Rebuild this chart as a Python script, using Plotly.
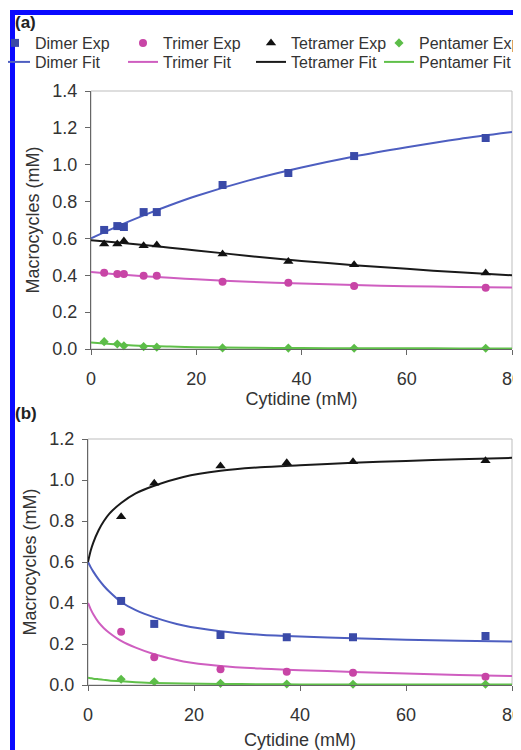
import plotly.graph_objects as go

# ---------------- data ----------------
# Panel (a): experimental points
a_x = [2.5, 5, 6.25, 10, 12.5, 25, 37.5, 50, 75]
a_dimer = [0.646, 0.667, 0.662, 0.743, 0.743, 0.89, 0.955, 1.047, 1.145]
a_trimer = [0.414, 0.407, 0.407, 0.398, 0.398, 0.365, 0.36, 0.342, 0.333]
a_tetramer = [0.57, 0.57, 0.586, 0.56, 0.565, 0.515, 0.475, 0.457, 0.413]
a_pentamer = [0.04, 0.027, 0.018, 0.013, 0.01, 0.006, 0.005, 0.004, 0.004]

# Panel (a): fit curves
a_fit_x = [0, 5, 10, 15, 20, 30, 40, 50, 60, 70, 80]
a_fit_dimer = [0.60, 0.665, 0.725, 0.78, 0.83, 0.915, 0.985, 1.045, 1.095, 1.14, 1.177]
a_fit_trimer = [0.418, 0.405, 0.395, 0.386, 0.378, 0.365, 0.355, 0.347, 0.341, 0.337, 0.334]
a_fit_tetramer = [0.59, 0.578, 0.565, 0.55, 0.535, 0.505, 0.478, 0.455, 0.435, 0.416, 0.40]
a_fit_pentamer = [0.035, 0.025, 0.017, 0.013, 0.010, 0.007, 0.005, 0.004, 0.004, 0.003, 0.003]

# Panel (b): experimental points
b_x = [6.25, 12.5, 25, 37.5, 50, 75]
b_dimer = [0.41, 0.298, 0.244, 0.233, 0.233, 0.239]
b_trimer = [0.26, 0.135, 0.077, 0.065, 0.06, 0.04]
b_tetramer = [0.821, 0.984, 1.068, 1.084, 1.089, 1.094]
b_pentamer = [0.028, 0.016, 0.008, 0.005, 0.004, 0.004]

# Panel (b): fit curves
b_fit_x = [0, 0.5, 1, 2, 3, 4, 6.25, 9, 12.5, 18, 25, 32.5, 40, 50, 60, 70, 80]
b_fit_dimer = [0.60, 0.575, 0.553, 0.515, 0.483, 0.456, 0.405, 0.365, 0.33, 0.29, 0.262,
               0.245, 0.236, 0.228, 0.221, 0.216, 0.212]
b_fit_trimer = [0.40, 0.37, 0.345, 0.305, 0.277, 0.255, 0.215, 0.182, 0.150, 0.115, 0.093,
                0.08, 0.072, 0.064, 0.056, 0.049, 0.044]
b_fit_tetramer = [0.60, 0.655, 0.695, 0.755, 0.80, 0.835, 0.888, 0.935, 0.972, 1.015, 1.045,
                  1.062, 1.072, 1.084, 1.093, 1.101, 1.108]
b_fit_pentamer = [0.035, 0.033, 0.031, 0.028, 0.025, 0.022, 0.018, 0.014, 0.010, 0.007, 0.005,
                  0.004, 0.003, 0.003, 0.002, 0.002, 0.002]

x_ticks = [0, 20, 40, 60, 80]
a_y_ticks = [0.0, 0.2, 0.4, 0.6, 0.8, 1.0, 1.2, 1.4]
b_y_ticks = [0.0, 0.2, 0.4, 0.6, 0.8, 1.0, 1.2]

series_names = ["Dimer", "Trimer", "Tetramer", "Pentamer"]

# ---------------- styles ----------------
marker_colors = ["#3a4aa8", "#c845a6", "#111111", "#5cbd48"]
line_colors = ["#4d5ec0", "#cf5ec0", "#1a1a1a", "#60c04a"]
symbols = ["square", "circle", "triangle-up", "diamond"]
sizes = [8, 8, 9, 7]

FONT = "Liberation Sans, Arial, sans-serif"
TXT = "#333333"
AX = "#666666"

fig = go.Figure()

a_exp = [a_dimer, a_trimer, a_tetramer, a_pentamer]
a_fit = [a_fit_dimer, a_fit_trimer, a_fit_tetramer, a_fit_pentamer]
b_exp = [b_dimer, b_trimer, b_tetramer, b_pentamer]
b_fit = [b_fit_dimer, b_fit_trimer, b_fit_tetramer, b_fit_pentamer]

for i, name in enumerate(series_names):
    fig.add_trace(go.Scatter(
        x=a_fit_x, y=a_fit[i], mode="lines", name=name + " Fit",
        line=dict(color=line_colors[i], width=2, shape="spline", smoothing=0.8),
        legend="legend2", xaxis="x", yaxis="y", legendrank=10 + i, cliponaxis=False))
for i, name in enumerate(series_names):
    fig.add_trace(go.Scatter(
        x=a_x, y=a_exp[i], mode="markers", name=name + " Exp",
        marker=dict(symbol=symbols[i], size=sizes[i], color=marker_colors[i]),
        legend="legend", xaxis="x", yaxis="y", legendrank=i, cliponaxis=False))
for i, name in enumerate(series_names):
    fig.add_trace(go.Scatter(
        x=b_fit_x, y=b_fit[i], mode="lines", name=name + " Fit", showlegend=False,
        line=dict(color=line_colors[i], width=2, shape="spline", smoothing=0.8),
        xaxis="x2", yaxis="y2", cliponaxis=False))
for i, name in enumerate(series_names):
    fig.add_trace(go.Scatter(
        x=b_x, y=b_exp[i], mode="markers", name=name + " Exp", showlegend=False,
        marker=dict(symbol=symbols[i], size=sizes[i], color=marker_colors[i]),
        xaxis="x2", yaxis="y2", cliponaxis=False))

# The page body has an 8px default margin: the figure sits at (8, 8) in the window.
OFF = 8
W, H = 521 - OFF, 750 - OFF

def px_x(p):
    return (p - OFF) / W

def px_y(p):
    return 1 - (p - OFF) / H

def xaxis_style(title_standoff, label_standoff):
    return dict(range=[0, 80], tickvals=x_ticks, ticks="outside", ticklen=5, tickcolor=AX,
                showline=True, linecolor=AX, linewidth=1, showgrid=False, zeroline=False,
                tickfont=dict(family=FONT, size=18, color=TXT), ticklabelstandoff=label_standoff,
                ticklabeloverflow="allow",
                title=dict(text="Cytidine (mM)", font=dict(family=FONT, size=18, color=TXT),
                           standoff=title_standoff))

ycommon = dict(ticks="outside", ticklen=5, tickcolor=AX, tickformat=".1f",
               showline=True, linecolor=AX, linewidth=1, showgrid=False, zeroline=False,
               tickfont=dict(family=FONT, size=18, color=TXT), ticklabelstandoff=4,
               ticklabeloverflow="allow",
               title=dict(text="Macrocycles (mM)", font=dict(family=FONT, size=18, color=TXT), standoff=8))

legend_common = dict(orientation="h", x=0, xanchor="left", yanchor="middle",
                     entrywidth=96, entrywidthmode="pixels", indentation=-13, itemwidth=30,
                     font=dict(family=FONT, size=16, color=TXT), bgcolor="rgba(0,0,0,0)",
                     traceorder="normal")

fig.update_layout(
    width=W, height=H, margin=dict(l=0, r=0, t=0, b=0, autoexpand=False),
    paper_bgcolor="white", plot_bgcolor="white",
    font=dict(family=FONT, color=TXT),
    xaxis=dict(domain=[px_x(91), px_x(512)], anchor="y", **xaxis_style(0, 8)),
    yaxis=dict(domain=[px_y(349), px_y(91)], anchor="x", range=[0, 1.4], tickvals=a_y_ticks, **ycommon),
    xaxis2=dict(domain=[px_x(88), px_x(512)], anchor="y2", **xaxis_style(9, 8)),
    yaxis2=dict(domain=[px_y(685), px_y(439)], anchor="x2", range=[0, 1.2], tickvals=b_y_ticks, **ycommon),
    legend=dict(y=px_y(43), **legend_common),
    legend2=dict(y=px_y(62), **legend_common),
    showlegend=True,
)

# plot-area light frame
for xr, yr in [("x", "y"), ("x2", "y2")]:
    fig.add_shape(type="rect", xref=xr + " domain", yref=yr + " domain", x0=0, x1=1, y0=0, y1=1,
                  line=dict(color="#bdbdbd", width=1), layer="below")

# panel labels
fig.add_annotation(text="<b>(a)</b>", x=px_x(13), xanchor="left", y=px_y(23), yanchor="middle",
                   xref="paper", yref="paper", showarrow=False, font=dict(family=FONT, size=17, color="#222"))
fig.add_annotation(text="<b>(b)</b>", x=px_x(13), xanchor="left", y=px_y(413), yanchor="middle",
                   xref="paper", yref="paper", showarrow=False, font=dict(family=FONT, size=17, color="#222"))

# blue frame of the cropped figure
BLUE = "#0a0aff"
for x0, x1, y0, y1 in [(px_x(10), 1, px_y(15), px_y(10)),
                       (px_x(10), px_x(15), 0, px_y(10)),
                       (px_x(514), 1, 0, px_y(10))]:
    fig.add_shape(type="rect", xref="paper", yref="paper", x0=x0, x1=x1, y0=y0, y1=y1,
                  fillcolor=BLUE, line=dict(width=0), layer="above")

fig.write_html("out.html")
